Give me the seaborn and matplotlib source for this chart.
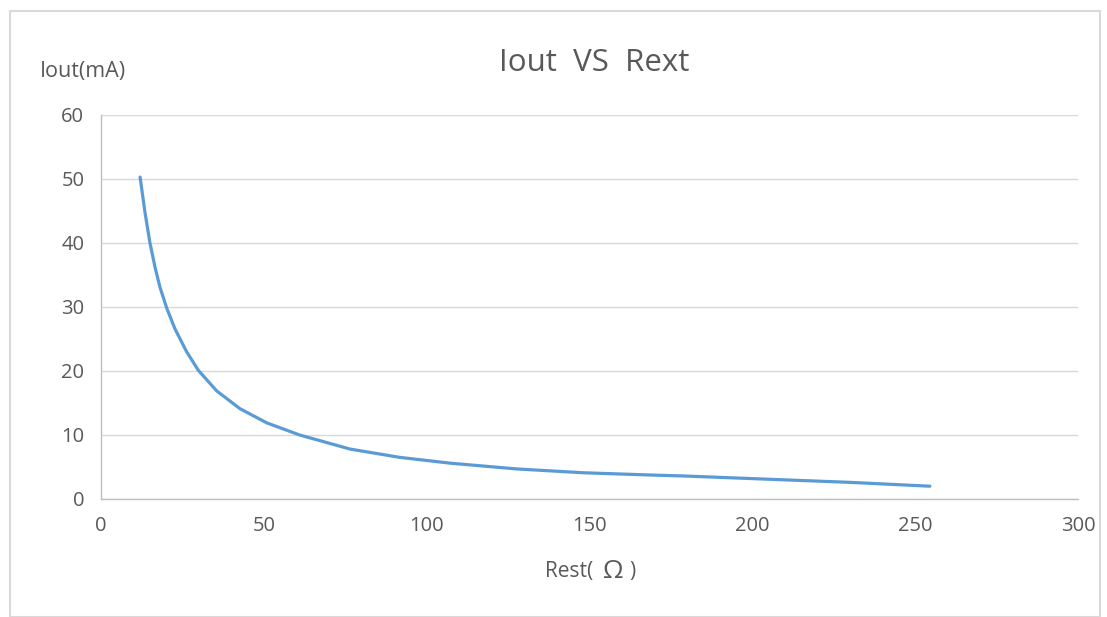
import matplotlib
matplotlib.use("Agg")
import matplotlib.pyplot as plt
import seaborn as sns
import pandas as pd
from matplotlib.patches import Rectangle

rest = [12.0, 13.5, 15.0, 16.6, 18.1, 20.2, 22.7, 26.3, 29.9, 35.5, 42.7, 50.9, 61.0,
        76.5, 91.8, 107.2, 127.6, 148.1, 168.6, 178.8, 204.4, 230.0, 254.5]
iout = [50.3, 44.8, 40.1, 36.2, 33.1, 29.8, 26.6, 23.0, 20.1, 16.9, 14.1, 11.9, 10.0,
        7.8, 6.5, 5.6, 4.7, 4.1, 3.75, 3.6, 3.1, 2.6, 2.0]
title = "Iout  VS  Rext"
xlabel_main = "Rest("
xlabel_unit = "Ω"
xlabel_close = ")"
ylabel = "Iout(mA)"
xticks = [0, 50, 100, 150, 200, 250, 300]
yticks = [0, 10, 20, 30, 40, 50, 60]

sns.set_theme(style="white")
plt.rcParams['font.family'] = ['Open Sans', 'DejaVu Sans']

df = pd.DataFrame({"Rest": rest, "Iout": iout})

fig = plt.figure(figsize=(11.07, 6.17), dpi=100)
ax = fig.add_axes([101/1107, 1-499/617, (1078-101)/1107, (499-115)/617])

sns.lineplot(data=df, x="Rest", y="Iout", ax=ax, color="#5b9bd5", linewidth=2.3,
             solid_joinstyle="round", solid_capstyle="round")

ax.set_xlim(0, 300)
ax.set_ylim(0, 60)
ax.set_xticks(xticks)
ax.set_yticks(yticks)
ax.tick_params(axis='both', colors="#595959", labelsize=14.5, length=0)
ax.tick_params(axis='x', pad=12)
ax.tick_params(axis='y', pad=12)
ax.yaxis.grid(True, color="#d9d9d9", linewidth=1)
ax.xaxis.grid(False)
for s in ["top", "right"]:
    ax.spines[s].set_visible(False)
for s in ["left", "bottom"]:
    ax.spines[s].set_color("#bfbfbf")
    ax.spines[s].set_linewidth(1)
ax.set_xlabel("")
ax.set_ylabel("")

fig.text(594/1107, 1-63/617, title, ha="center", va="center", fontsize=22.5, color="#595959")
fig.text(40/1107, 1-72/617, ylabel, ha="left", va="center", fontsize=15.5, color="#595959")
fig.text(593/1107, 1-572/617, xlabel_main, ha="right", va="center", fontsize=15, color="#595959")
fig.text(613/1107, 1-572/617, xlabel_unit, ha="center", va="center", fontsize=19, color="#595959")
fig.text(629/1107, 1-572/617, xlabel_close, ha="left", va="center", fontsize=15, color="#595959")

fig.patches.append(Rectangle((10/1107, 0), (1100-10)/1107, 1-11/617, transform=fig.transFigure,
                             fill=False, edgecolor="#d9d9d9", linewidth=1.5))

fig.savefig("out.png", dpi=100)
